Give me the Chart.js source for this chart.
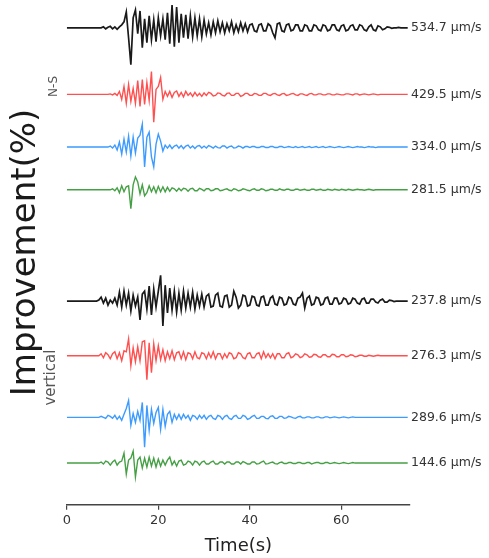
<!DOCTYPE html>
<html>
<head>
<meta charset="utf-8">
<script src="https://cdn.jsdelivr.net/npm/chart.js@4.4.1/dist/chart.umd.min.js"></script>
<style>
  html, body { margin: 0; padding: 0; background: #fff; }
  #wrap { width: 489px; height: 558px; }
</style>
</head>
<body>
<div id="wrap"><canvas id="seis" width="489" height="558"></canvas></div>
<script>
// sampling of every trace (seconds)
const dt = 0.5;
const xTicks = [0, 20, 40, 60];

// trace names, amplitude labels, colours
const traceNames = ['N-S black', 'N-S red', 'N-S blue', 'N-S green',
                    'V black', 'V red', 'V blue', 'V green'];
const ampLabels = ['534.7 μm/s', '429.5 μm/s', '334.0 μm/s', '281.5 μm/s',
                   '237.8 μm/s', '276.3 μm/s', '289.6 μm/s', '144.6 μm/s'];
const traceColors = ['#1a1a1a', '#ff4f4f', '#3d9bff', '#45a045',
                     '#1a1a1a', '#ff4f4f', '#3d9bff', '#45a045'];
// vertical offset of each trace baseline
const offsets = [-2.8, -9.5, -14.8, -19.1, -30.3, -35.8, -42.0, -46.6];

// ---- N-S component ----
const nsBlack = [
  0,0,0,0,0,0,0,0,0,0,
  0,0,0,0,0,0,0.1,-0.1,0.05,0.15,
  -0.1,0.1,-0.15,0.1,0.3,0.6,1.6,-1.0,-3.7,1.0,
  1.8,-0.6,1.7,-2.0,0.9,-1.5,1.2,-1.2,0.8,-1.4,
  1.0,-0.8,0.9,-1.2,1.5,-1.6,2.3,-1.9,2.1,-1.5,
  1.4,-1.0,1.3,-1.1,1.2,-0.9,1.0,-0.8,0.9,-0.9,
  0.8,-0.6,0.5,-0.7,0.6,-0.5,0.7,-0.4,0.5,-0.5,
  0.4,-0.3,0.6,-0.5,0.3,-0.4,0.5,-0.3,0.4,-0.4,
  0.3,0.4,-0.3,-0.4,0.3,0.4,-0.3,-0.3,0.4,0.2,
  -0.5,-1.0,0.4,0.5,-0.3,-0.4,0.3,0.4,-0.3,-0.2,
  0.3,0.3,-0.3,-0.3,0.3,0.2,-0.3,-0.3,0.3,0.2,
  -0.2,-0.3,0.3,0.2,-0.3,-0.2,0.3,0.3,-0.2,-0.3,
  0.2,0.3,-0.3,-0.2,0.2,0.3,-0.2,-0.2,0.3,0.2,
  -0.2,-0.3,0.1,0.3,-0.2,-0.3,0.2,0.1,-0.2,-0.1,
  0.1,0.05,-0.05,0,0,0.05,0,0,0,0
];
const nsRed = [
  0,0,0,0,0,0,0,0,0,0,
  0,0,0,0,0,0,0,0,0,0.05,
  -0.05,0.1,-0.1,0.3,-0.5,0.8,-0.9,1.0,-0.7,0.6,
  -0.9,1.4,-1.2,1.5,-1.0,1.2,-0.6,2.3,-2.8,0.5,
  0.8,1.7,-0.5,0.3,-0.2,0.3,-0.3,0.2,0.35,-0.2,
  0.2,-0.25,0.3,-0.1,0.15,-0.2,0.2,-0.15,0.1,-0.2,
  0.15,-0.1,0.2,0.1,-0.15,-0.1,0.15,0.1,-0.1,-0.15,
  0.1,0.15,-0.1,-0.1,0.1,0.1,-0.2,-0.1,0.1,0.1,
  -0.1,-0.1,0.1,0.05,-0.1,-0.1,0.1,0.1,-0.05,-0.1,
  0.05,0.1,-0.05,-0.1,0.05,0.1,-0.1,-0.05,0.05,0.1,
  -0.05,-0.1,0.05,0.05,-0.05,-0.1,0.05,0.1,-0.05,-0.05,
  0.05,0.05,-0.05,-0.05,0.05,0.05,-0.05,-0.05,0.05,0,
  -0.05,-0.05,0.05,0.05,0,-0.05,0.05,0.05,-0.05,0,
  0.05,0,-0.05,0,0.05,0,-0.05,0,0,0,
  0,0,0,0,0,0,0,0,0,0
];
const nsBlue = [
  0,0,0,0,0,0,0,0,0,0,
  0,0,0,0,0,0,0,0,0,0.1,
  -0.1,0.2,-0.3,0.5,-0.7,0.8,-0.5,1.1,-0.9,1.0,
  -0.6,0.9,1.2,2.3,-2.0,1.0,1.5,-1.0,-2.0,0.3,
  1.3,0.6,-0.4,0.2,-0.1,0.2,-0.15,0.1,0.2,-0.1,
  0.15,-0.15,0.1,0.2,-0.1,0.1,-0.15,0.1,0.15,-0.1,
  0.1,-0.1,0.15,0.05,-0.1,0.1,-0.05,-0.1,0.1,0.1,
  -0.1,0.05,0.1,-0.1,-0.05,0.1,0.05,-0.1,0.05,0.05,
  -0.05,0.05,0.05,-0.05,-0.05,0.05,0.05,-0.05,-0.05,0.05,
  0.05,-0.05,-0.05,0.05,0.05,-0.05,0,0.05,0,-0.05,
  0.05,-0.05,0,0.05,-0.05,0,0.05,-0.05,0,0.05,
  -0.05,0,0.05,-0.05,0,0.05,0,-0.05,0,0.05,
  0,-0.05,0,0.05,0,-0.05,0,0.05,0,0,
  -0.05,0,0.05,0,0,-0.05,0,0,0,0,
  0,0,0,0,0,0,0,0,0,0
];
const nsGreen = [
  0,0,0,0,0,0,0,0,0,0,
  0,0,0,0,0,0,0,0,0,0,
  0.1,-0.1,0.2,-0.3,0.4,-0.2,0.3,0.4,-1.9,0.5,
  1.3,0.8,-0.4,0.5,-0.6,-0.3,0.4,-0.2,0.3,-0.3,
  0.35,-0.2,0.3,-0.2,0.25,-0.15,0.2,0.1,-0.15,0.15,
  -0.1,0.15,0.1,-0.15,0.1,0.15,-0.1,-0.1,0.15,0.05,
  -0.1,0.1,0.1,-0.1,-0.05,0.1,0.1,-0.1,-0.05,0.05,
  0.1,-0.05,-0.1,0.1,0.05,-0.1,-0.05,0.1,0.05,-0.05,
  -0.1,0.05,0.1,-0.05,-0.05,0.1,0.05,-0.1,-0.05,0.05,
  0.05,-0.05,-0.05,0.1,0,-0.05,0.05,0.05,-0.05,-0.05,
  0.05,0.05,-0.05,0,0.05,-0.05,-0.05,0.05,0.05,-0.05,
  0,0.05,-0.05,-0.05,0.05,0,-0.05,0.05,0,-0.05,
  0.05,0,-0.05,0.05,0,-0.05,0,0.05,0,0,
  -0.05,0,0.05,0,-0.05,0,0,0,0,0,
  0,0,0,0,0,0,0,0,0,0
];

// ---- Vertical component ----
const vBlack = [
  0,0,0,0,0,0,0,0,0,0,
  0,0,0,0,0.1,0.4,-0.2,0.3,-0.4,0.1,
  -0.2,0.3,-0.4,0.9,-0.6,1.0,-0.4,0.8,-1.0,0.6,
  -0.5,0.4,-1.9,0.7,1.0,-0.8,1.5,-1.4,1.2,-0.6,
  1.0,2.6,-2.5,1.6,-1.2,1.3,-0.9,1.0,-1.1,0.8,
  -0.9,1.0,-0.7,0.8,-0.6,0.9,-0.8,0.6,-0.5,0.7,
  -0.6,0.5,0.7,-0.6,-0.5,0.6,0.8,-0.5,-0.6,0.5,
  0.6,-0.6,-0.4,1.0,0.4,-0.7,-0.4,0.6,0.5,-0.5,
  -0.4,0.5,0.4,-0.4,-0.5,0.4,0.5,-0.4,-0.4,0.3,
  0.5,-0.3,-0.4,0.4,0.3,-0.4,-0.3,0.4,0.3,-0.3,
  -0.4,0.3,0.4,0.8,-0.7,0.3,0.5,-0.4,-0.3,0.4,
  0.3,-0.4,-0.3,0.3,0.4,-0.3,-0.3,0.3,0.3,-0.3,
  -0.2,0.3,0.2,-0.3,-0.2,0.3,0.2,-0.2,-0.3,0.2,
  0.3,-0.2,-0.2,0.2,0.2,-0.1,-0.2,0.1,0.2,-0.1,
  -0.1,0.1,0.05,-0.05,0,0,0,0,0,0
];
const vRed = [
  0,0,0,0,0,0,0,0,0,0,
  0,0,0,0,0,0.2,-0.2,0.3,0.1,-0.3,
  0.2,0.4,-0.3,0.3,-0.5,0.5,0.4,1.7,-1.0,0.8,
  -0.6,0.9,-0.5,1.4,1.5,-2.4,1.3,-1.7,1.2,-0.5,
  1.0,-0.4,0.6,-0.5,0.4,-0.3,0.5,-0.4,0.3,0.4,
  -0.3,0.4,-0.4,0.3,0.2,-0.3,0.4,-0.2,-0.3,0.3,
  0.2,-0.3,0.3,-0.2,0.4,-0.3,0.2,0.2,-0.3,0.2,
  -0.2,0.3,0.2,-0.3,-0.2,0.3,0.2,-0.2,-0.3,0.2,
  0.3,-0.2,-0.2,0.2,0.3,-0.3,0.4,-0.2,0.2,-0.2,
  0.2,-0.3,0.2,0.2,-0.2,-0.2,0.2,0.3,-0.2,-0.1,
  0.2,0.1,-0.2,-0.1,0.2,0.1,-0.15,-0.1,0.15,0.1,
  -0.1,-0.15,0.1,0.1,-0.1,-0.1,0.15,0.1,-0.1,-0.1,
  0.1,0.1,-0.1,-0.05,0.1,0.05,-0.1,-0.05,0.05,0.05,
  -0.05,-0.05,0.05,0,-0.05,0,0.05,0,0,0,
  0,0,0,0,0,0,0,0,0,0
];
const vBlue = [
  0,0,0,0,0,0,0,0,0,0,
  0,0,0,0,0,0.1,0,-0.1,0.2,0.1,
  -0.1,0.2,-0.2,0.1,-0.3,0.3,0.9,1.7,-0.8,0.4,
  -0.5,0.6,-0.3,1.5,-3.0,1.2,-1.3,0.8,-0.6,0.5,
  1.0,-1.2,0.8,-0.9,0.3,0.6,-0.5,0.3,-0.2,0.3,
  -0.2,0.3,-0.1,0.2,-0.3,0.2,0.1,-0.2,0.2,-0.1,
  0.2,-0.2,0.1,0.2,-0.1,-0.2,0.2,0.1,-0.2,0.1,
  0.2,-0.1,-0.2,0.1,0.2,-0.1,-0.1,0.2,0.1,-0.2,
  -0.1,0.1,0.2,-0.1,-0.1,0.1,0.1,-0.1,-0.15,0.1,
  0.15,-0.1,-0.1,0.1,0.1,-0.1,-0.05,0.1,0.05,-0.05,
  -0.1,0.05,0.1,-0.05,-0.05,0.05,0.05,-0.05,-0.05,0.05,
  0.05,-0.05,-0.05,0.05,0.05,-0.05,0,0.05,0,-0.05,
  0,0.05,0,-0.05,0,0.05,0,0,0,0,
  0,0,0,0,0,0,0,0,0,0,
  0,0,0,0,0,0,0,0,0,0
];
const vGreen = [
  0,0,0,0,0,0,0,0,0,0,
  0,0,0,0,0,0.1,-0.1,0.2,0.1,-0.2,
  0.1,0.3,-0.2,0.1,0.2,1.0,-1.1,0.3,0.5,1.2,
  -1.4,0.3,0.6,-0.5,0.5,-0.4,0.6,-0.3,0.5,-0.4,
  0.4,-0.3,0.3,-0.2,0.3,0.6,-0.2,0.2,-0.3,0.2,
  0.3,-0.2,-0.1,0.2,0.1,-0.2,0.2,0.1,-0.2,0.1,
  0.2,-0.1,-0.1,0.1,0.2,-0.1,-0.1,0.1,0.1,-0.1,
  0.1,0.1,-0.1,-0.1,0.1,0.1,-0.1,0.15,0.05,-0.1,
  -0.1,0.1,0.1,-0.1,-0.05,0.1,0.2,-0.1,-0.05,0.05,
  0.1,-0.05,-0.1,0.05,0.1,-0.05,-0.05,0.05,0.05,-0.05,
  -0.05,0.05,0.05,-0.05,-0.05,0.05,0.05,-0.1,0,0.05,
  0.05,-0.05,-0.05,0.05,0.05,-0.05,0,0.05,0,-0.05,
  0,0.05,0,-0.05,0,0.05,0,0,0,0,
  0,0,0,0,0,0,0,0,0,0,
  0,0,0,0,0,0,0,0,0,0
];

const traces = [nsBlack, nsRed, nsBlue, nsGreen, vBlack, vRed, vBlue, vGreen];

// component names on the left of each group
const groupNames = ['N-S', 'vertical'];
const groupAt = [-8.7, -38.0];

const datasets = traces.map((vals, i) => ({
    label: traceNames[i],
    data: vals.map((v, k) => ({ x: k * dt, y: offsets[i] + v })),
    borderColor: traceColors[i],
    borderWidth: i % 4 === 0 ? 1.7 : 1.4,
    pointRadius: 0,
    tension: 0,
    fill: false
}));

const traceLabels = {
    id: 'traceLabels',
    afterDatasetsDraw(chart) {
        const { ctx, chartArea, scales: { y } } = chart;
        ctx.save();
        ctx.fillStyle = '#333';
        ctx.textBaseline = 'middle';
        ctx.textAlign = 'left';
        ctx.font = '12.5px "DejaVu Sans"';
        ampLabels.forEach((txt, i) => {
            ctx.fillText(txt, chartArea.right + 1, y.getPixelForValue(offsets[i]));
        });
        // group names, rotated
        ctx.fillStyle = '#555';
        ctx.textAlign = 'center';
        groupNames.forEach((txt, i) => {
            ctx.save();
            ctx.translate(chartArea.left - (i === 0 ? 13 : 16), y.getPixelForValue(groupAt[i]));
            ctx.rotate(-Math.PI / 2);
            ctx.font = (i === 0 ? '12px' : '15px') + ' "DejaVu Sans"';
            ctx.fillText(txt, 0, 0);
            ctx.restore();
        });
        ctx.restore();
    }
};

new Chart(document.getElementById('seis'), {
    type: 'line',
    data: { datasets: datasets },
    plugins: [traceLabels],
    options: {
        responsive: false,
        animation: false,
        parsing: false,
        layout: { padding: { left: 2, right: 79, top: 0, bottom: 1 } },
        plugins: { legend: { display: false }, tooltip: { enabled: false } },
        scales: {
            x: {
                type: 'linear',
                min: 0,
                max: 75,
                afterBuildTicks: axis => { axis.ticks = xTicks.map(v => ({ value: v })); },
                ticks: { color: '#333', font: { family: 'DejaVu Sans', size: 13 }, padding: 3, maxRotation: 0 },
                grid: { display: true, drawOnChartArea: false, drawTicks: true, tickLength: 5, color: '#444', lineWidth: 1.2 },
                border: { display: true, color: '#444', width: 1.4 },
                title: { display: true, text: 'Time(s)', color: '#222', font: { family: 'DejaVu Sans', size: 18 }, padding: { top: 4, bottom: 0 } }
            },
            y: {
                type: 'linear',
                min: -50.8,
                max: 0,
                ticks: { display: false },
                grid: { display: false, drawTicks: false },
                border: { display: false },
                title: { display: true, text: 'Improvement(%)', color: '#1a1a1a', font: { family: 'DejaVu Sans', size: 34 }, padding: { top: 4, bottom: 20 } }
            }
        }
    }
});
</script>
</body>
</html>
